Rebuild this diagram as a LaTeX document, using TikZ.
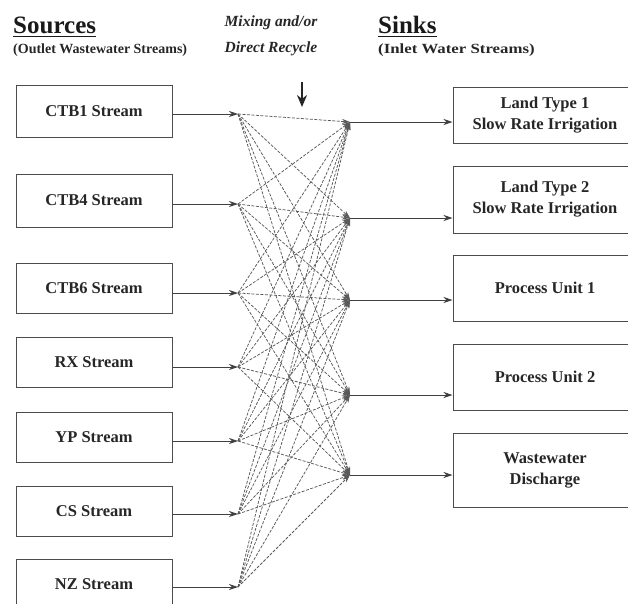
\documentclass[tikz,border=0pt]{standalone}
\usepackage{fontspec}
\setmainfont{Liberation Serif}
\usetikzlibrary{arrows.meta}
\begin{document}
\begin{tikzpicture}[x=1pt,y=-1pt,
  srcbox/.style={draw=black!70,line width=1pt,minimum width=156pt,minimum height=50pt,inner sep=0pt,
    font=\bfseries\fontsize{16.5}{21}\selectfont,text=black!85,align=center},
  sinkbox/.style={draw=black!70,line width=1pt,minimum width=184pt,inner sep=0pt,
    font=\bfseries\fontsize{16.5}{21}\selectfont,text=black!85,align=center},
  headtxt/.style={anchor=base west,inner sep=0pt,font=\bfseries\fontsize{25}{25}\selectfont,text=black!90},
  subtxt/.style={anchor=base west,inner sep=0pt,font=\bfseries\fontsize{14}{14}\selectfont,text=black!85},
  feed/.style={draw=black!75,line width=0.9pt,-{Stealth[length=9pt,width=6pt]}},
  mesh/.style={draw=black!65,line width=0.75pt,dash pattern=on 3pt off 1.5pt,-{Stealth[length=8pt,width=5pt]}},
]
\useasboundingbox (0,0) rectangle (628,603);

% headings
\node[headtxt] (srchead) at (13,33) {Sources};
\draw[line width=1.6pt,black!90] ([yshift=-3.5pt]srchead.base west) -- ([yshift=-3.5pt]srchead.base east);
\node[subtxt] (srcsub) at (13,53) {(Outlet Wastewater Streams)};
\node[headtxt] (sinkhead) at (378,33) {Sinks};
\draw[line width=1.6pt,black!90] ([yshift=-3.5pt]sinkhead.base west) -- ([yshift=-3.5pt]sinkhead.base east);
\node[subtxt] (sinksub) at (378,53) {\scalebox{1.2}[1]{(Inlet Water Streams)}};
\node[font=\bfseries\itshape\fontsize{15.5}{26}\selectfont,align=center,text=black!85] (mix) at (271,36) {Mixing and/or\\Direct Recycle};
\coordinate (arrtop) at (302,82);
\coordinate (arrbot) at (302,107);
\draw[line width=2pt,black!85,-{Stealth[length=12pt,width=10pt]}] (arrtop) -- (arrbot);

% sources
\node[srcbox,minimum height=52pt] (ctb1) at (94,111) {CTB1 Stream};
\node[srcbox,minimum height=53pt] (ctb4) at (94,200.5) {CTB4 Stream};
\node[srcbox] (ctb6) at (94,288) {CTB6 Stream};
\node[srcbox] (rx) at (94,362) {RX Stream};
\node[srcbox] (yp) at (94,437) {YP Stream};
\node[srcbox] (cs) at (94,511) {CS Stream};
\node[srcbox] (nz) at (94,584) {NZ Stream};

% sinks
\node[sinkbox,minimum height=56pt] (land1) at (545,115) {Land Type 1\\Slow Rate Irrigation};
\node[sinkbox,minimum height=67pt] (land2) at (545,199.5) {Land Type 2\\Slow Rate Irrigation};
\node[sinkbox,minimum height=66pt] (pu1) at (545,288) {Process Unit 1};
\node[sinkbox,minimum height=66pt] (pu2) at (545,377) {Process Unit 2};
\node[sinkbox,minimum height=74pt] (ww) at (545,470) {Wastewater\\Discharge};

% junctions
\coordinate (j1) at (238,114);
\coordinate (j2) at (238,204);
\coordinate (j3) at (238,293);
\coordinate (j4) at (238,367);
\coordinate (j5) at (238,441);
\coordinate (j6) at (238,514);
\coordinate (j7) at (238,587);
\coordinate (k1) at (350,122);
\coordinate (k2) at (350,218);
\coordinate (k3) at (350,300);
\coordinate (k4) at (350,395);
\coordinate (k5) at (350,475);

% source feeds
\draw[feed] (ctb1.east |- j1) -- (j1);
\draw[feed] (ctb4.east |- j2) -- (j2);
\draw[feed] (ctb6.east |- j3) -- (j3);
\draw[feed] (rx.east |- j4) -- (j4);
\draw[feed] (yp.east |- j5) -- (j5);
\draw[feed] (cs.east |- j6) -- (j6);
\draw[feed] (nz.east |- j7) -- (j7);

% mesh
\foreach \s in {j1,j2,j3,j4,j5,j6,j7}
  \foreach \t in {k1,k2,k3,k4,k5}
    \draw[mesh] (\s) -- (\t);

% sink feeds
\draw[feed] (k1) -- (land1.west |- k1);
\draw[feed] (k2) -- (land2.west |- k2);
\draw[feed] (k3) -- (pu1.west |- k3);
\draw[feed] (k4) -- (pu2.west |- k4);
\draw[feed] (k5) -- (ww.west |- k5);
\end{tikzpicture}
\end{document}
